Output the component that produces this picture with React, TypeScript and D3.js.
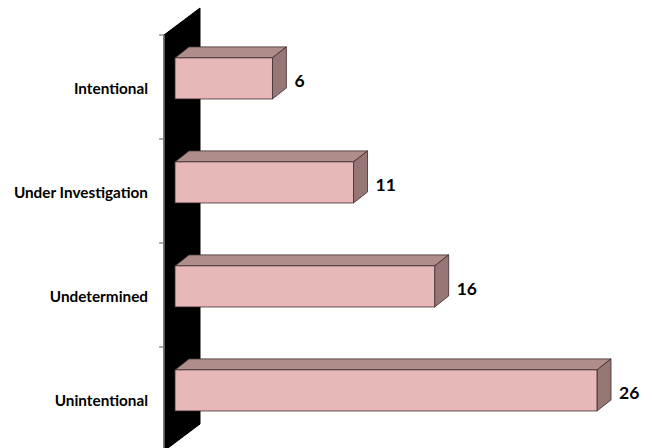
import React from "react";
import * as d3 from "d3";

const categories = ["Intentional", "Under Investigation", "Undetermined", "Unintentional"];
const values = [6, 11, 16, 26];

const W = 652;
const H = 448;

export default function App() {
  const y = d3.scaleBand<string>().domain(categories).range([35, 451]).padding(0);
  const x = d3.scaleLinear().domain([0, 26]).range([175, 597]);
  const bw = y.bandwidth();
  const barOff = bw * 0.22;
  const barH = bw * 0.395;
  const dx = 14, dy = -11;
  const wallX0 = 164, wallX1 = 200, wdy = -27;
  const wallTop = y.range()[0];
  const wallBot = y.range()[1];
  const font = "Lato, 'Open Sans', sans-serif";

  return (
    <svg width={W} height={H} style={{ position: "absolute", left: 0, top: 0, background: "#fff" }}>
      {/* wall */}
      <path
        d={`M${wallX0},${wallTop} L${wallX1},${wallTop + wdy} L${wallX1},${wallBot + wdy} L${wallX0},${wallBot} Z`}
        fill="#000"
        stroke="#000"
      />
      <line x1={wallX0} x2={wallX0} y1={wallTop} y2={H} stroke="#777" strokeWidth={1.5} />
      {categories.map((c) => (
        <line key={c} x1={wallX0 - 5} x2={wallX0} y1={y(c)!} y2={y(c)!} stroke="#777" strokeWidth={1.2} />
      ))}
      {categories.map((c, i) => {
        const x0 = x(0);
        const x1 = x(values[i]);
        const y0 = y(c)! + barOff;
        const y1 = y0 + barH;
        return (
          <g key={c}>
            <path
              d={`M${x0},${y0} L${x0 + dx},${y0 + dy} L${x1 + dx},${y0 + dy} L${x1},${y0} Z`}
              fill="#AF8D8B"
              stroke="#3b2b2b"
              strokeWidth={0.8}
            />
            <path
              d={`M${x1},${y0} L${x1 + dx},${y0 + dy} L${x1 + dx},${y1 + dy} L${x1},${y1} Z`}
              fill="#977775"
              stroke="#3b2b2b"
              strokeWidth={0.8}
            />
            <rect x={x0} y={y0} width={x1 - x0} height={barH} fill="#E6B9B8" stroke="#3b2b2b" strokeWidth={0.8} />
            <text
              x={x1 + dx + 8}
              y={(y0 + y1) / 2 + 2}
              dy="0.35em"
              fontFamily={font}
              fontWeight="bold"
              fontSize={17.5}
              fill="#000"
            >
              {values[i]}
            </text>
            <text
              x={148}
              y={(y0 + y1) / 2 + 10}
              dy="0.35em"
              textAnchor="end"
              fontFamily={font}
              fontWeight="bold"
              fontSize={15.3}
              fill="#000"
            >
              {c}
            </text>
          </g>
        );
      })}
    </svg>
  );
}
